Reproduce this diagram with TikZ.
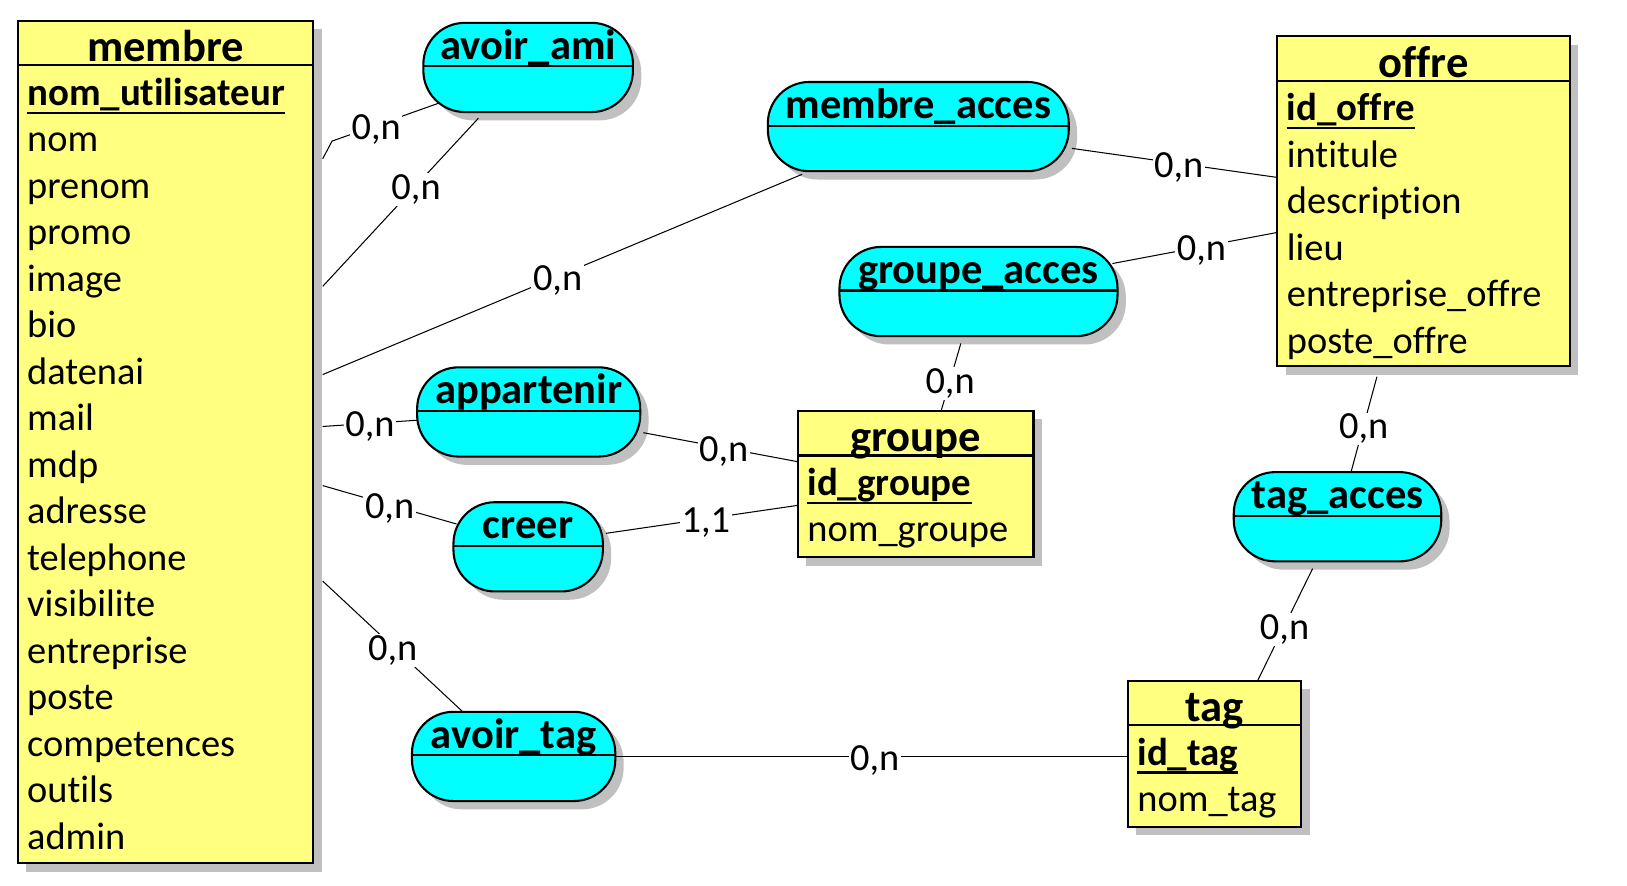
\documentclass[tikz,border=0pt]{standalone}
\usepackage{fontspec}
\setmainfont{Carlito}[Ligatures={NoCommon}]
\usetikzlibrary{calc,shadows}
\definecolor{entyellow}{RGB}{255,255,128}
\definecolor{relcyan}{RGB}{0,255,255}
\definecolor{shadowgray}{RGB}{192,192,192}
\tikzset{
 myshadow/.style={drop shadow={shadow xshift=8pt, shadow yshift=-8pt, fill=shadowgray, opacity=1}},
 entity/.style={draw=black, line width=2pt, fill=entyellow, myshadow, rectangle, inner sep=0pt, outer sep=0pt, anchor=north west},
 rel/.style={draw=black, line width=2pt, fill=relcyan, myshadow, rectangle, rounded corners=40pt, inner sep=0pt, outer sep=0pt, anchor=north west, minimum height=86pt},
 divider/.style={line width=2pt},
 attr/.style={inner sep=0pt, anchor=base west, font=\fontsize{37}{44}\selectfont},
 keyattr/.style={inner sep=0pt, anchor=base west, font=\fontsize{37.5}{44}\selectfont\bfseries},
 ehead/.style={inner sep=0pt, anchor=base, font=\fontsize{43}{50}\selectfont\bfseries},
 rhead/.style={inner sep=0pt, anchor=base, font=\fontsize{41}{48}\selectfont\bfseries},
 link/.style={line width=1pt, draw=black},
 card/.style={fill=white, inner sep=1.5pt, yshift=-3.5pt, font=\fontsize{37}{44}\selectfont, text=black},
 keyline/.style={line width=2pt},
}
\begin{document}
\begin{tikzpicture}[x=1pt,y=-1pt]
\fill[white] (0,0) rectangle (1568,853);
\useasboundingbox (0,0) rectangle (1568,853);

% ---------- entity membre
\node[entity, minimum width=285pt, minimum height=812pt] (membre) at (17,20) {};
\draw[divider] ($(membre.north west)+(0,43)$) -- ($(membre.north east)+(0,43)$);
\node[ehead] (membreT) at ($(membre.north)+(0,39.5)$) {membre};
\node[keyattr] (m0) at ($(membre.north west)+(9,81.5)$) {nom\_utilisateur};
\draw[keyline] ($(m0.base west)+(0,7)$) -- ($(m0.base east)+(0,7)$);
\foreach \t [count=\i] in {nom,prenom,promo,image,bio,datenai,mail,mdp,adresse,telephone,visibilite,entreprise,poste,competences,outils,admin}
  \node[attr] (m\i) at ($(membre.north west)+(9,{81.5+44.8*\i})$) {\t};

% ---------- entity offre
\node[entity, minimum width=282pt, minimum height=318pt] (offre) at (1231,35) {};
\draw[divider] ($(offre.north west)+(0,43)$) -- ($(offre.north east)+(0,43)$);
\node[ehead] (offreT) at ($(offre.north)+(0,39.5)$) {offre};
\node[keyattr] (o0) at ($(offre.north west)+(9,81.5)$) {id\_offre};
\draw[keyline] ($(o0.base west)+(0,7)$) -- ($(o0.base east)+(0,7)$);
\foreach \t [count=\i] in {intitule,description,lieu,entreprise\_offre,poste\_offre}
  \node[attr] (o\i) at ($(offre.north west)+(9,{81.5+44.8*\i})$) {\t};

% ---------- entity groupe
\node[entity, minimum width=227pt, minimum height=141pt] (groupe) at (769,396) {};
\draw[divider] ($(groupe.north west)+(0,43)$) -- ($(groupe.north east)+(0,43)$);
\node[ehead] (groupeT) at ($(groupe.north)+(0,39.5)$) {groupe};
\node[keyattr] (g0) at ($(groupe.north west)+(9,81.5)$) {id\_groupe};
\draw[keyline] ($(g0.base west)+(0,7)$) -- ($(g0.base east)+(0,7)$);
\node[attr] (g1) at ($(groupe.north west)+(9,126.3)$) {nom\_groupe};

% ---------- entity tag
\node[entity, minimum width=167pt, minimum height=141pt] (tag) at (1087,656) {};
\draw[divider] ($(tag.north west)+(0,43)$) -- ($(tag.north east)+(0,43)$);
\node[ehead] (tagT) at ($(tag.north)+(0,39.5)$) {tag};
\node[keyattr] (t0) at ($(tag.north west)+(9,81.5)$) {id\_tag};
\draw[keyline] ($(t0.base west)+(0,7)$) -- ($(t0.base east)+(0,7)$);
\node[attr] (t1) at ($(tag.north west)+(9,126.3)$) {nom\_tag};

% ---------- associations
\node[rel, minimum width=202pt] (avoirami) at (408,22) {};
\node[rel, minimum width=290pt] (membreacces) at (740,79) {};
\node[rel, minimum width=268pt] (groupeacces) at (809,238) {};
\node[rel, minimum width=215pt] (appartenir) at (402,354) {};
\node[rel, minimum width=144pt] (creer) at (437,484) {};
\node[rel, minimum width=196pt] (avoirtag) at (397,686) {};
\node[rel, minimum width=200pt] (tagacces) at (1189,455) {};
\foreach \r/\n in {avoirami/avoir\_ami, membreacces/membre\_acces, groupeacces/groupe\_acces, appartenir/appartenir, creer/creer, avoirtag/avoir\_tag, tagacces/tag\_acces} {
  \draw[divider] ($(\r.north west)+(0,42)$) -- ($(\r.north east)+(0,42)$);
  \node[rhead] (\r T) at ($(\r.north)+(0,35)$) {\n};
}

% ---------- connectors
\draw[link] ($(membre.north east)+(9,133)$) -- ($(membre.north east)+(18,116)$)
  -- node[card, pos=0.41] (c1) {0,n} ($(avoirami.south west)+(16,-9)$);
\draw[link] ($(membre.north east)+(9,256)$)
  -- node[card, pos=0.6] (c2) {0,n} ($(avoirami.south west)+(53,6)$);
\draw[link] ($(membre.north east)+(9,341)$)
  -- node[card, pos=0.49] (c3) {0,n} ($(membreacces.south west)+(33,3)$);
\draw[link] ($(membreacces.north east)+(3,64)$)
  -- node[card, pos=0.52] (c4) {0,n} ($(offre.north west)+(0,136)$);
\draw[link] ($(groupeacces.north east)+(-5,16)$)
  -- node[card, pos=0.54] (c5) {0,n} ($(offre.north west)+(0,189)$);
\draw[link] ($(groupeacces.south west)+(117,7)$)
  -- node[card, pos=0.545] (c6) {0,n} ($(groupe.north west)+(138,0)$);
\draw[link] ($(membre.north east)+(9,391)$)
  -- node[card, pos=0.5] (c7) {0,n} ($(appartenir.north west)+(0,51)$);
\draw[link] ($(appartenir.north east)+(3,63)$)
  -- node[card, pos=0.52] (c8) {0,n} ($(groupe.north west)+(0,49)$);
\draw[link] ($(membre.north east)+(9,448)$)
  -- node[card, pos=0.5] (c9) {0,n} ($(creer.north west)+(3,21)$);
\draw[link] ($(creer.north east)+(3,30)$)
  -- node[card, pos=0.52] (c10) {1,1} ($(groupe.north west)+(0,91)$);
\draw[link] ($(membre.north east)+(9,540)$)
  -- node[card, pos=0.5] (c11) {0,n} ($(avoirtag.north west)+(49,0)$);
\draw[link] ($(avoirtag.north east)+(0,43)$)
  -- node[card, pos=0.506] (c12) {0,n} ($(tag.north west)+(0,73)$);
\draw[link] ($(offre.south west)+(96,10)$)
  -- node[card, pos=0.51] (c13) {0,n} ($(tagacces.north west)+(113,0)$);
\draw[link] ($(tagacces.south west)+(76,7)$)
  -- node[card, pos=0.51] (c14) {0,n} ($(tag.north west)+(125,0)$);
\end{tikzpicture}
\end{document}
